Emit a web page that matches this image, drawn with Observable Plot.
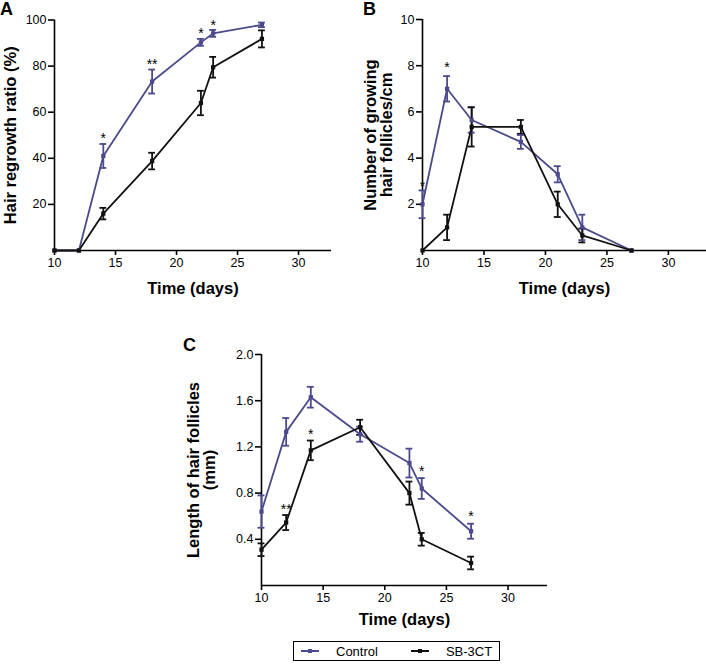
<!DOCTYPE html>
<html>
<head>
<meta charset="utf-8">
<script src="https://cdn.jsdelivr.net/npm/d3@7"></script>
<script src="https://cdn.jsdelivr.net/npm/@observablehq/plot@0.6"></script>
<style>
  html, body { margin: 0; padding: 0; background: #fff; }
  #root { position: relative; width: 706px; height: 668px; font-family: "Liberation Sans", Arial, sans-serif; overflow: hidden; }
  .panel { position: absolute; }
  .letter { position: absolute; font-weight: bold; font-size: 18px; line-height: 18px; }
  #legend { position: absolute; left: 293px; top: 641px; width: 205px; height: 18px; border: 1px solid #000; font-size: 13px; display: flex; align-items: center; box-sizing: content-box; }
  .item { display: flex; align-items: center; }
  .sw { position: relative; width: 18px; height: 2px; margin-left: 7px; margin-right: 17px; }
  .sw i { position: absolute; left: 7px; top: -1.5px; width: 4px; height: 4px; }
</style>
</head>
<body>
<div id="root">
  <div class="letter" style="left:0px;top:0px;">A</div>
  <div class="letter" style="left:363px;top:0px;">B</div>
  <div class="letter" style="left:183px;top:336px;">C</div>
  <div id="A" class="panel" style="left:0px;top:0px;"></div>
  <div id="B" class="panel" style="left:350px;top:0px;"></div>
  <div id="C" class="panel" style="left:190px;top:320px;"></div>
  <div id="legend"></div>
</div>
<script>
// ---------- data ----------
const seriesNames = ["Control", "SB-3CT"];
const seriesColors = ["#4b4a8c", "#111111"];

const xTicks = [10, 15, 20, 25, 30];

// Panel A: Hair regrowth ratio (%)
const A_days = [10, 12, 14, 18, 22, 23, 27];
const A_control = [0, 0, 41, 73.3, 90.3, 94.2, 97.9];
const A_controlErr = [0, 0, 5.2, 5.2, 1.5, 1.5, 1];
const A_sb = [0, 0, 16, 38.8, 64, 79.5, 91.8];
const A_sbErr = [0, 0, 2.5, 3.6, 5.3, 4.5, 3.7];
const A_starX = [14, 18, 22, 23];
const A_starY = [50.5, 82.5, 96, 99.5];
const A_starText = ["*", "**", "*", "*"];
const A_yTicks = [20, 40, 60, 80, 100];

// Panel B: Number of growing hair follicles/cm
const B_days = [10, 12, 14, 18, 21, 23, 27];
const B_control = [2, 7, 5.65, 4.7, 3.3, 1, 0];
const B_controlErr = [0.6, 0.55, 0.55, 0.3, 0.35, 0.55, 0];
const B_sb = [0, 1, 5.35, 5.35, 2, 0.65, 0];
const B_sbErr = [0, 0.55, 0.85, 0.3, 0.55, 0.3, 0];
const B_starX = [10, 12];
const B_starY = [2.95, 8.1];
const B_starText = ["*", "*"];
const B_yTicks = [2, 4, 6, 8, 10];

// Panel C: Length of hair follicles (mm)
const C_days = [10, 12, 14, 18, 22, 23, 27];
const C_control = [0.64, 1.33, 1.63, 1.31, 1.06, 0.84, 0.47];
const C_controlErr = [0.14, 0.12, 0.09, 0.065, 0.125, 0.09, 0.065];
const C_sb = [0.31, 0.545, 1.17, 1.37, 0.8, 0.4, 0.195];
const C_sbErr = [0.055, 0.065, 0.085, 0.065, 0.1, 0.055, 0.055];
const C_starX = [12, 14, 23, 27];
const C_starY = [0.69, 1.34, 1.02, 0.63];
const C_starText = ["**", "*", "*", "*"];
const C_yTicks = [0.4, 0.8, 1.2, 1.6, 2.0];

// ---------- helpers ----------
const FONT = '"Liberation Sans", Arial, sans-serif';

function rows(days, vals, errs, s) {
  return days.map((x, i) => ({x, y: vals[i], e: errs[i], s}));
}

function panel(cfg) {
  const data = [
    ...rows(cfg.days, cfg.control, cfg.controlErr, seriesNames[0]),
    ...rows(cfg.days, cfg.sb, cfg.sbErr, seriesNames[1])
  ];
  const withErr = data.filter(d => d.e > 0);
  const stars = cfg.starX.map((x, i) => ({x, y: cfg.starY[i], t: cfg.starText[i]}));
  const color = {domain: seriesNames, range: seriesColors};
  const cap = 0.28;
  return Plot.plot({
    width: cfg.width,
    height: cfg.height,
    marginLeft: cfg.ml,
    marginRight: cfg.mr,
    marginTop: cfg.mt,
    marginBottom: cfg.mb,
    style: {fontFamily: FONT, fontSize: "12.5px", color: "#000", background: "transparent", overflow: "visible"},
    x: {domain: [10, cfg.xmax]},
    y: {domain: [0, cfg.ymax]},
    color,
    marks: [
      Plot.ruleY([0], {stroke: "#000", strokeWidth: 1.6}),
      Plot.ruleX([10], {stroke: "#000", strokeWidth: 1.6}),
      Plot.axisX({ticks: xTicks, tickSize: 5, tickPadding: 3, strokeWidth: 1.6, fontSize: 12.5, label: null}),
      Plot.axisY({ticks: cfg.yTicks, tickSize: 6, tickPadding: 2, strokeWidth: 1.6, fontSize: 12.5, label: null, tickFormat: cfg.fmt}),
      Plot.ruleX(withErr, {x: "x", y1: d => d.y - d.e, y2: d => d.y + d.e, stroke: "s", strokeWidth: 1.8}),
      Plot.ruleY(withErr, {y: d => d.y - d.e, x1: d => d.x - cap, x2: d => d.x + cap, stroke: "s", strokeWidth: 1.8}),
      Plot.ruleY(withErr, {y: d => d.y + d.e, x1: d => d.x - cap, x2: d => d.x + cap, stroke: "s", strokeWidth: 1.8}),
      Plot.line(data, {x: "x", y: "y", z: "s", stroke: "s", strokeWidth: 1.8}),
      Plot.dot(data, {x: "x", y: "y", fill: "s", symbol: "square", r: 2.4}),
      Plot.text(stars, {x: "x", y: "y", text: "t", fontSize: 14, dy: 4, fill: "#000"}),
      Plot.text([cfg.xlabel], {frameAnchor: "bottom", textAnchor: "middle", dy: cfg.xdy, fontSize: 16.5, fontWeight: "bold", fill: "#000"}),
      Plot.text([cfg.ylabel], {frameAnchor: "left", textAnchor: "middle", lineAnchor: "middle", rotate: -90, dx: cfg.ydx, fontSize: 16.5, fontWeight: "bold", lineHeight: 1.0, fill: "#000"})
    ]
  });
}

document.getElementById("A").append(panel({
  width: 345, height: 310, ml: 54, mr: 14, mt: 19.5, mb: 60, xmax: 32.7, ymax: 100,
  days: A_days, control: A_control, controlErr: A_controlErr, sb: A_sb, sbErr: A_sbErr,
  starX: A_starX, starY: A_starY, starText: A_starText, yTicks: A_yTicks, fmt: d3.format("d"),
  xlabel: "Time (days)", xdy: 43, ylabel: "Hair regrowth ratio (%)", ydx: -44
}));

document.getElementById("B").append(panel({
  width: 356, height: 310, ml: 72, mr: 0, mt: 19, mb: 60, xmax: 33.1, ymax: 10,
  days: B_days, control: B_control, controlErr: B_controlErr, sb: B_sb, sbErr: B_sbErr,
  starX: B_starX, starY: B_starY, starText: B_starText, yTicks: B_yTicks, fmt: d3.format("d"),
  xlabel: "Time (days)", xdy: 43, ylabel: "Number of growing\nhair follicles/cm", ydx: -44
}));

document.getElementById("C").append(panel({
  width: 360, height: 320, ml: 71, mr: 3, mt: 34, mb: 55, xmax: 33.2, ymax: 2.0,
  days: C_days, control: C_control, controlErr: C_controlErr, sb: C_sb, sbErr: C_sbErr,
  starX: C_starX, starY: C_starY, starText: C_starText, yTicks: C_yTicks, fmt: d3.format(".1f"),
  xlabel: "Time (days)", xdy: 39, ylabel: "Length of hair follicles\n(mm)", ydx: -60
}));

// legend
const legend = document.getElementById("legend");
seriesNames.forEach((name, i) => {
  const item = document.createElement("div");
  item.className = "item";
  item.style.marginRight = i === 0 ? "26px" : "0px";
  const sw = document.createElement("span");
  sw.className = "sw";
  sw.style.background = seriesColors[i];
  const mk = document.createElement("i");
  mk.style.background = seriesColors[i];
  sw.append(mk);
  const label = document.createElement("span");
  label.textContent = name;
  item.append(sw, label);
  legend.append(item);
});
</script>
</body>
</html>
